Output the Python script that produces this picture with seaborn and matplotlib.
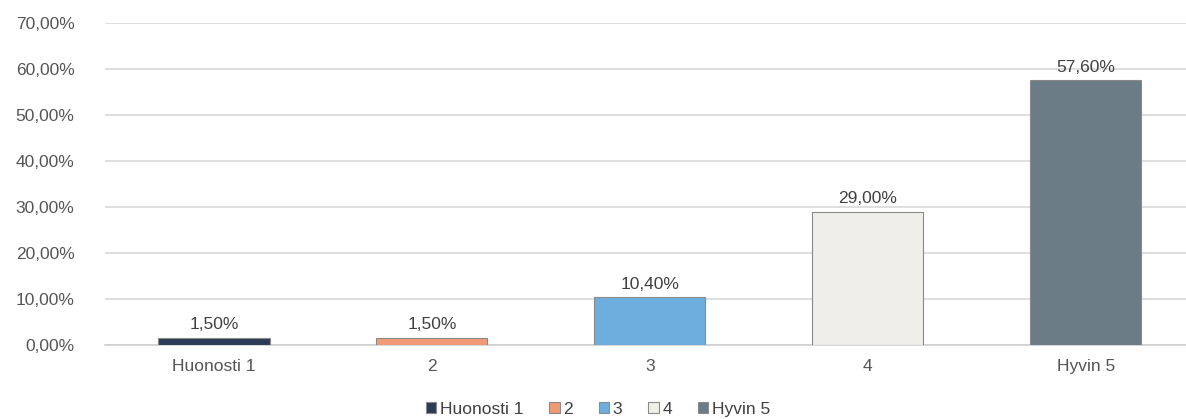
# Bar chart of rating shares (1-5)
import numpy as np
import pandas as pd
import matplotlib
matplotlib.use("Agg")
import matplotlib.pyplot as plt
import seaborn as sns

# Data
categories = ["Huonosti 1", "2", "3", "4", "Hyvin 5"]
shares = [0.015, 0.015, 0.104, 0.290, 0.576]
bar_colors = ["#2c3b57", "#f29a78", "#6eaede", "#efeee8", "#6c7c87"]
yticks = [0.0, 0.1, 0.2, 0.3, 0.4, 0.5, 0.6, 0.7]

df = pd.DataFrame({"category": categories, "share": shares})

sns.set_theme(style="white")
plt.rcParams["font.family"] = ["Liberation Sans", "DejaVu Sans"]

fig = plt.figure(figsize=(11.86, 4.19), dpi=100)
ax = fig.add_axes([0.0885, 0.177, 0.9115, 0.768])

sns.barplot(data=df, x="category", y="share", hue="category",
            palette=bar_colors, saturation=1, width=0.51, ax=ax, legend=True,
            edgecolor="#8a8a8a", linewidth=0.8, zorder=3)

def fi_pct(v):
    return f"{v * 100:.2f}%".replace(".", ",")

# value labels above bars
for i, v in enumerate(shares):
    ax.text(i, v + 0.012, fi_pct(v), ha="center", va="bottom",
            fontsize=12.5, color="#404040")

ax.set_ylim(0, 0.70)
ax.set_xlim(-0.5, 4.46)
ax.set_yticks(yticks)
ax.set_yticklabels([fi_pct(t) for t in yticks], fontsize=12.5, color="#555555")
ax.tick_params(axis="x", labelsize=12.5, labelcolor="#555555", length=0, pad=10)
ax.tick_params(axis="y", length=0, pad=22)
ax.grid(axis="y", color="#d9d9d9", linewidth=1.2, zorder=0)
ax.set_axisbelow(True)
ax.set_xlabel("")
ax.set_ylabel("")
for side in ["top", "right", "left"]:
    ax.spines[side].set_visible(False)
ax.spines["bottom"].set_color("#cfcfcf")
ax.spines["bottom"].set_linewidth(1.2)

sns.move_legend(ax, "upper center", bbox_to_anchor=(0.456, -0.145), ncol=5,
                frameon=False, title=None, fontsize=12.5, handlelength=0.6,
                handleheight=0.6, handletextpad=0.2, columnspacing=1.5,
                borderpad=0.1, labelcolor="#404040")

fig.savefig("out.png", dpi=100)
